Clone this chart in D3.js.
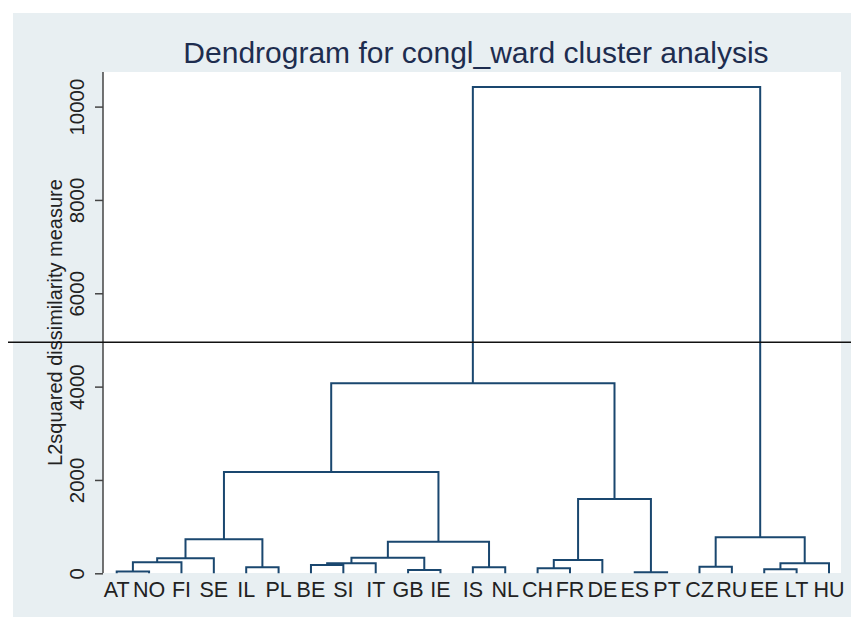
<!DOCTYPE html>
<html>
<head>
<meta charset="utf-8">
<script src="https://cdn.jsdelivr.net/npm/d3@7"></script>
<style>
  body { margin: 0; background: #fff; }
  text { font-family: "Liberation Sans", Arial, sans-serif; }
</style>
</head>
<body>
<svg id="chart" width="851" height="617"></svg>
<script>
// leaves in dendrogram order
const leaves = ["AT", "NO", "FI", "SE", "IL", "PL", "BE", "SI", "IT", "GB", "IE", "IS",
    "NL", "CH", "FR", "DE", "ES", "PT", "CZ", "RU", "EE", "LT", "HU"];

// merges: ids 0..22 are leaves, merge k gets id 23 + k
const mergeLeft   = [0, 23, 24, 4, 25, 6, 28, 9, 29, 11, 31, 27, 13, 35, 16, 36, 34, 18, 20, 41, 40, 39];
const mergeRight  = [1, 2, 3, 5, 26, 7, 8, 10, 30, 12, 32, 33, 14, 15, 17, 37, 38, 19, 21, 22, 42, 43];
const mergeHeight = [40, 235, 320, 128, 730, 178, 214, 71, 334, 128, 677, 2170,
    107, 285, 20, 1590, 4070, 142, 86, 214, 771, 10420];

const yTicks = [0, 2000, 4000, 6000, 8000, 10000];
const cutHeight = 4950;

const svg = d3.select("#chart");
const W = 851, H = 617;

// background: light bluish graph region, white plot region
svg.append("rect")
    .attr("x", 13).attr("y", 13)
    .attr("width", W - 13).attr("height", H - 13)
    .attr("fill", "#e8eff2");

const plot = { left: 103, right: 841, top: 72, bottom: 573 };

svg.append("rect")
    .attr("x", plot.left).attr("y", plot.top)
    .attr("width", plot.right - plot.left).attr("height", plot.bottom - plot.top)
    .attr("fill", "#fff");

const x = d3.scaleLinear().domain([0, leaves.length - 1]).range([116.7, 829]);
const y = d3.scaleLinear().domain([0, 10000]).range([573.3, 106.6]);

// work out positions of every node
const nodes = leaves.map((d, i) => ({ x: x(i), h: 0 }));
mergeLeft.forEach((l, k) => {
    const a = nodes[l], b = nodes[mergeRight[k]];
    nodes.push({ x: (a.x + b.x) / 2, h: mergeHeight[k], a: a, b: b });
});

// links
const g = svg.append("g");
g.selectAll(".link")
    .data(nodes.slice(leaves.length))
    .enter().append("path")
    .attr("class", "link")
    .attr("fill", "none")
    .attr("stroke", "#1a476f")
    .attr("stroke-width", 2)
    .attr("d", d => `M${d.a.x},${y(d.a.h)}V${y(d.h)}H${d.b.x}V${y(d.b.h)}`);

// y axis
const yAxis = d3.axisLeft(y).tickValues(yTicks).tickSize(8).tickFormat(d3.format("d"));
const ax = svg.append("g")
    .attr("transform", "translate(" + plot.left + ",0)")
    .call(yAxis);
ax.select(".domain").attr("d", `M0,${plot.top}V${plot.bottom}`).attr("stroke", "#444").attr("stroke-width", 1.5);
ax.selectAll(".tick line").attr("stroke", "#444").attr("stroke-width", 1.5);
ax.selectAll(".tick text")
    .attr("x", 0).attr("y", 0).attr("dy", null)
    .attr("transform", "translate(-19,0) rotate(-90)")
    .attr("text-anchor", "middle")
    .attr("font-size", 20.5)
    .attr("fill", "#222");

// leaf labels
svg.selectAll(".leaf")
    .data(leaves)
    .enter().append("text")
    .attr("class", "leaf")
    .attr("x", (d, i) => x(i))
    .attr("y", 597)
    .attr("text-anchor", "middle")
    .attr("font-size", 21.5)
    .attr("fill", "#222")
    .text(d => d);

// axis title
svg.append("text")
    .attr("transform", "translate(61.5," + (plot.top + plot.bottom) / 2 + ") rotate(-90)")
    .attr("text-anchor", "middle")
    .attr("font-size", 20)
    .attr("fill", "#222")
    .text("L2squared dissimilarity measure");

// title
svg.append("text")
    .attr("x", 476)
    .attr("y", 63)
    .attr("text-anchor", "middle")
    .attr("font-size", 30)
    .attr("fill", "#1e2d4f")
    .text("Dendrogram for congl_ward cluster analysis");

// cut line
svg.append("line")
    .attr("x1", 8).attr("x2", W)
    .attr("y1", y(cutHeight)).attr("y2", y(cutHeight))
    .attr("stroke", "#111")
    .attr("stroke-width", 1.5);
</script>
</body>
</html>
